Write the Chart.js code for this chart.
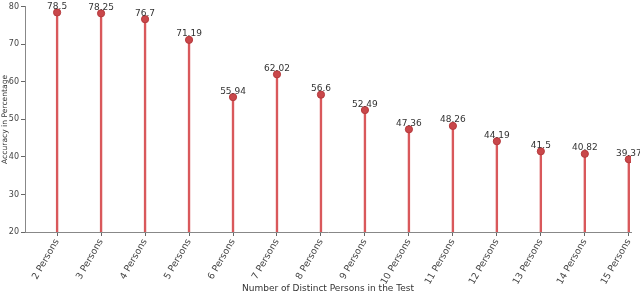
<!DOCTYPE html>
<html><head><meta charset="utf-8">
<script src="https://cdn.jsdelivr.net/npm/chart.js@4/dist/chart.umd.min.js"></script>
<style>html,body{margin:0;padding:0;background:#fff;}#wrap{width:640px;height:295px;}</style>
</head><body><div id="wrap"><canvas id="c" width="640" height="295"></canvas></div>
<script>
const categories = ['2 Persons','3 Persons','4 Persons','5 Persons','6 Persons','7 Persons','8 Persons','9 Persons','10 Persons','11 Persons','12 Persons','13 Persons','14 Persons','15 Persons'];
const accuracy = [78.5,78.25,76.7,71.19,55.94,62.02,56.6,52.49,47.36,48.26,44.19,41.5,40.82,39.37];
const accuracyLabels = ['78.5','78.25','76.7','71.19','55.94','62.02','56.6','52.49','47.36','48.26','44.19','41.5','40.82','39.37'];
const yTicks = [20,30,40,50,60,70,80];
const yBase = 20;

const FONT = "'DejaVu Sans', sans-serif";
const valueLabels = {
  id: 'valueLabels',
  afterDatasetsDraw(chart) {
    const ctx = chart.ctx, xs = chart.scales.x, ys = chart.scales.y;
    ctx.save();
    ctx.font = "9px " + FONT;
    ctx.fillStyle = '#333';
    ctx.textAlign = 'center';
    ctx.textBaseline = 'alphabetic';
    accuracy.forEach((v, i) => {
      ctx.fillText(accuracyLabels[i], xs.getPixelForValue(i), ys.getPixelForValue(v) - 3.5);
    });
    ctx.restore();
  }
};

new Chart(document.getElementById('c'), {
  type: 'bar',
  data: {
    datasets: [
      {
        type: 'scatter',
        data: accuracy.map((v, i) => ({x: i, y: v})),
        pointRadius: 3.6,
        pointBackgroundColor: '#c9474a',
        pointBorderColor: '#b5393c',
        pointBorderWidth: 1,
        order: 0
      },
      {
        type: 'bar',
        data: accuracy.map((v, i) => ({x: i, y: [yBase, v]})),
        backgroundColor: '#d9585b',
        barThickness: 1.7,
        order: 1
      }
    ]
  },
  options: {
    responsive: false,
    animation: false,
    layout: {padding: {left: 0, right: 9, top: 4, bottom: 0}},
    plugins: {legend: {display: false}, tooltip: {enabled: false}},
    scales: {
      x: {
        type: 'linear',
        min: -0.73,
        max: 13.05,
        offset: false,
        afterBuildTicks: (s) => { s.ticks = categories.map((c, i) => ({value: i})); },
        afterFit: (s) => { s.height = 63; },
        grid: {display: true, offset: false, drawOnChartArea: false, drawTicks: true, tickLength: 4, color: '#666'},
        border: {display: true, color: '#888', width: 1},
        ticks: {
          autoSkip: false,
          maxRotation: 60, minRotation: 60,
          padding: 1,
          color: '#444',
          font: {family: FONT, size: 9.3},
          callback: (v) => categories[v]
        },
        title: {display: true, text: 'Number of Distinct Persons in the Test', color: '#333', font: {family: FONT, size: 9}, padding: {top: 0, bottom: 1}}
      },
      y: {
        min: 20, max: 80,
        afterBuildTicks: (s) => { s.ticks = yTicks.map(v => ({value: v})); },
        afterFit: (s) => { s.width = 25; },
        grid: {display: true, drawOnChartArea: false, drawTicks: true, tickLength: 4, color: '#666'},
        border: {display: true, color: '#888', width: 1},
        ticks: {color: '#444', font: {family: FONT, size: 8}, padding: 2},
        title: {display: true, text: 'Accuracy in Percentage', color: '#333', font: {family: FONT, size: 7.6}, padding: {top: 0, bottom: 0}}
      }
    }
  },
  plugins: [valueLabels]
});
</script></body></html>
